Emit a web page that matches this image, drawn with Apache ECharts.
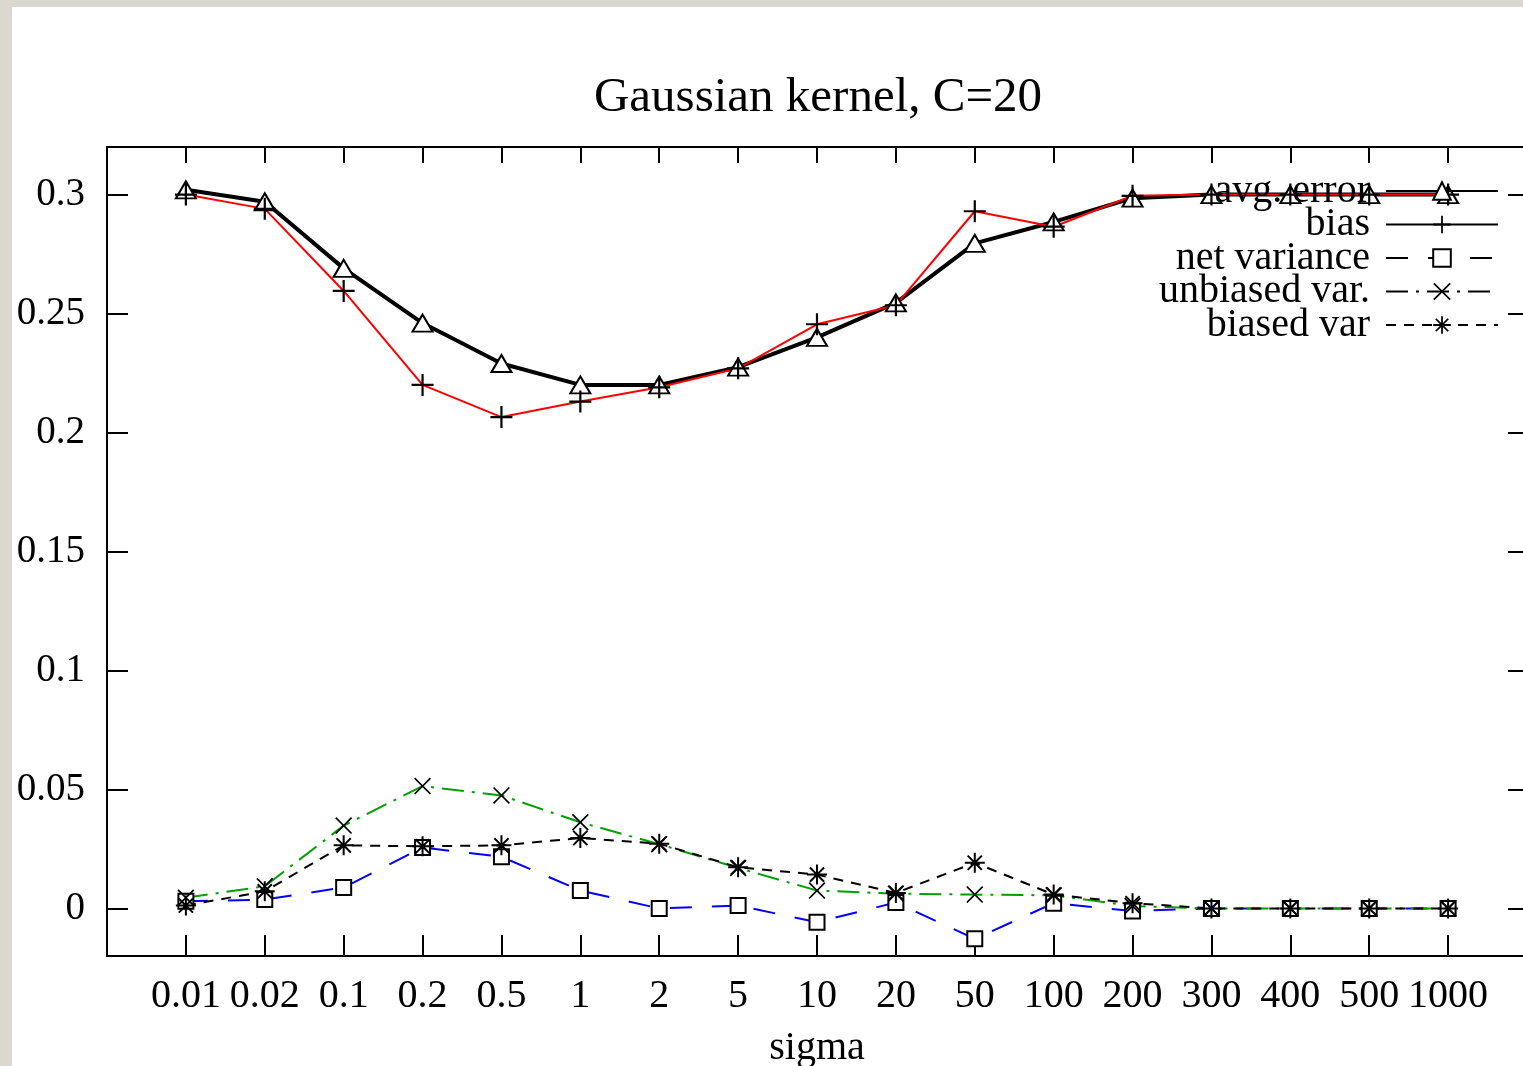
<!DOCTYPE html>
<html>
<head>
<meta charset="utf-8">
<script src="https://cdn.jsdelivr.net/npm/echarts@6/dist/echarts.min.js"></script>
<style>
  html, body { margin: 0; padding: 0; background: #dbd8d0; width: 1523px; height: 1066px; overflow: hidden; }
  #chart { position: absolute; left: 12px; top: 7px; width: 1511px; height: 1059px; background: #ffffff; }
</style>
</head>
<body>
<div id="chart"></div>
<script>
// ---- data ----
const categories = ['0.01','0.02','0.1','0.2','0.5','1','2','5','10','20','50','100','200','300','400','500','1000'];
const avgError     = [0.302, 0.297, 0.269, 0.246, 0.229, 0.220, 0.220, 0.2275, 0.240, 0.2545, 0.2795, 0.2885, 0.2985, 0.300, 0.300, 0.300, 0.300];
const bias         = [0.300, 0.294, 0.2595, 0.220, 0.2065, 0.213, 0.219, 0.227, 0.2455, 0.2535, 0.293, 0.2865, 0.2995, 0.300, 0.300, 0.300, 0.300];
const netVariance  = [0.003, 0.0037, 0.0088, 0.0256, 0.0217, 0.0075, 0.0, 0.0012, -0.0058, 0.0025, -0.0128, 0.0022, -0.0011, 0.0, 0.0, 0.0, 0.0];
const unbiasedVar  = [0.0045, 0.0093, 0.0348, 0.0514, 0.0475, 0.0362, 0.027, 0.017, 0.0075, 0.0062, 0.0058, 0.0055, 0.001, 0.0, 0.0, 0.0, 0.0];
const biasedVar    = [0.0012, 0.0072, 0.0265, 0.0261, 0.0265, 0.0296, 0.0272, 0.0173, 0.0142, 0.0065, 0.0192, 0.0058, 0.0022, 0.0, 0.0, 0.0, 0.0];
const seriesNames  = ['avg. error', 'bias', 'net variance', 'unbiased var.', 'biased var'];
const yTickValues  = [0, 0.05, 0.1, 0.15, 0.2, 0.25, 0.3];
const yTickLabels  = ['0', '0.05', '0.1', '0.15', '0.2', '0.25', '0.3'];
const titleText = 'Gaussian kernel, C=20';
const xAxisName = 'sigma';

// ---- marker shapes ----
const PLUS = 'path://M9,0 L11,0 L11,9 L20,9 L20,11 L11,11 L11,20 L9,20 L9,11 L0,11 L0,9 L9,9 Z';
const CROSS = 'path://M0,1.4 L1.4,0 L10,8.6 L18.6,0 L20,1.4 L11.4,10 L20,18.6 L18.6,20 L10,11.4 L1.4,20 L0,18.6 L8.6,10 Z';
const STAR = 'path://M9,0 L11,0 L11,9 L20,9 L20,11 L11,11 L11,20 L9,20 L9,11 L0,11 L0,9 L9,9 Z ' +
             'M2.2,3.6 L3.6,2.2 L10,8.6 L16.4,2.2 L17.8,3.6 L11.4,10 L17.8,16.4 L16.4,17.8 L10,11.4 L3.6,17.8 L2.2,16.4 L8.6,10 Z';

const FONT = '"Liberation Serif", "DejaVu Serif", serif';
const toPts = arr => arr.map((v, i) => [i, v]);

function yLabel(v) {
  let best = 0, bd = Infinity;
  yTickValues.forEach((t, i) => { const d = Math.abs(t - v); if (d < bd) { bd = d; best = i; } });
  return bd < 1e-6 ? yTickLabels[best] : '';
}
function xLabel(v) {
  const i = Math.round(v);
  return (i >= 0 && i < categories.length && Math.abs(v - i) < 1e-6) ? categories[i] : '';
}

const chart = echarts.init(document.getElementById('chart'), null, { renderer: 'canvas' });

const axisLineStyle = { color: '#000', width: 2 };

const option = {
  animation: false,
  backgroundColor: '#ffffff',
  title: {
    text: titleText,
    left: 801,
    top: 62,
    textAlign: 'center',
    textStyle: { fontFamily: FONT, fontSize: 49, fontWeight: 'normal', color: '#000' }
  },
  grid: { left: 95, top: 140, width: 1420, height: 809, containLabel: false, outerBoundsMode: 'none' },
  legend: {
    orient: 'vertical',
    right: 19,
    top: 159,
    align: 'right',
    itemWidth: 112,
    itemHeight: 22,
    itemGap: -6.5,
    textStyle: { fontFamily: FONT, fontSize: 40, color: '#000', padding: [0, 11, 0, 0] },
    selectedMode: false,
    data: [
      { name: seriesNames[0], itemStyle: { color: '#fff', borderColor: '#000', borderWidth: 2 }, lineStyle: { color: '#000', width: 2, type: 'solid' } },
      { name: seriesNames[1], itemStyle: { color: '#000' }, lineStyle: { color: '#000', width: 2, type: 'solid' } },
      { name: seriesNames[2], itemStyle: { color: '#fff', borderColor: '#000', borderWidth: 2 }, lineStyle: { color: '#000', width: 2, type: [22, 20] } },
      { name: seriesNames[3], itemStyle: { color: '#000' }, lineStyle: { color: '#000', width: 2, type: [22, 8, 3, 8] } },
      { name: seriesNames[4], itemStyle: { color: '#000' }, lineStyle: { color: '#000', width: 2, type: [10, 8] } }
    ]
  },
  xAxis: [
    {
      type: 'value', position: 'bottom', min: -1, max: 17, interval: 1,
      name: xAxisName, nameLocation: 'middle', nameGap: 72,
      nameTextStyle: { fontFamily: FONT, fontSize: 40, color: '#000' },
      axisLine: { show: true, onZero: false, lineStyle: axisLineStyle },
      axisTick: { show: true, inside: true, length: 21, lineStyle: axisLineStyle },
      axisLabel: { show: true, margin: 20, formatter: xLabel, fontFamily: FONT, fontSize: 40, color: '#000' },
      splitLine: { show: false }
    },
    {
      type: 'value', position: 'top', min: -1, max: 17, interval: 1,
      axisLine: { show: true, onZero: false, lineStyle: axisLineStyle },
      axisTick: { show: true, inside: true, length: 16, lineStyle: axisLineStyle },
      axisLabel: { show: false },
      splitLine: { show: false }
    }
  ],
  yAxis: [
    {
      type: 'value', position: 'left', min: -0.02, max: 0.32,
      axisLine: { show: true, onZero: false, lineStyle: axisLineStyle },
      axisTick: { show: true, inside: true, length: 21, customValues: yTickValues, lineStyle: axisLineStyle },
      axisLabel: { show: true, margin: 22, customValues: yTickValues, formatter: yLabel, fontFamily: FONT, fontSize: 39, color: '#000' },
      splitLine: { show: false }
    },
    {
      type: 'value', position: 'right', min: -0.02, max: 0.32,
      axisLine: { show: true, onZero: false, lineStyle: axisLineStyle },
      axisTick: { show: true, inside: true, length: 19, customValues: yTickValues, lineStyle: axisLineStyle },
      axisLabel: { show: false },
      splitLine: { show: false }
    }
  ],
  series: [
    {
      name: seriesNames[0], type: 'line', data: toPts(avgError),
      symbol: 'triangle', symbolSize: [20, 17],
      lineStyle: { color: '#000', width: 4 },
      itemStyle: { color: '#fff', borderColor: '#000', borderWidth: 2 }
    },
    {
      name: seriesNames[1], type: 'line', data: toPts(bias),
      symbol: PLUS, symbolSize: 22,
      lineStyle: { color: '#ff0000', width: 2 },
      itemStyle: { color: '#000' }
    },
    {
      name: seriesNames[2], type: 'line', data: toPts(netVariance),
      symbol: 'rect', symbolSize: 15,
      lineStyle: { color: '#0000ff', width: 2, type: [22, 20] },
      itemStyle: { color: '#fff', borderColor: '#000', borderWidth: 2 }
    },
    {
      name: seriesNames[3], type: 'line', data: toPts(unbiasedVar),
      symbol: CROSS, symbolSize: 17,
      lineStyle: { color: '#00a000', width: 2, type: [22, 8, 3, 8] },
      itemStyle: { color: '#000' }
    },
    {
      name: seriesNames[4], type: 'line', data: toPts(biasedVar),
      symbol: STAR, symbolSize: 20,
      lineStyle: { color: '#000', width: 2, type: [10, 8] },
      itemStyle: { color: '#000' }
    }
  ]
};

chart.setOption(option);
</script>
</body>
</html>
